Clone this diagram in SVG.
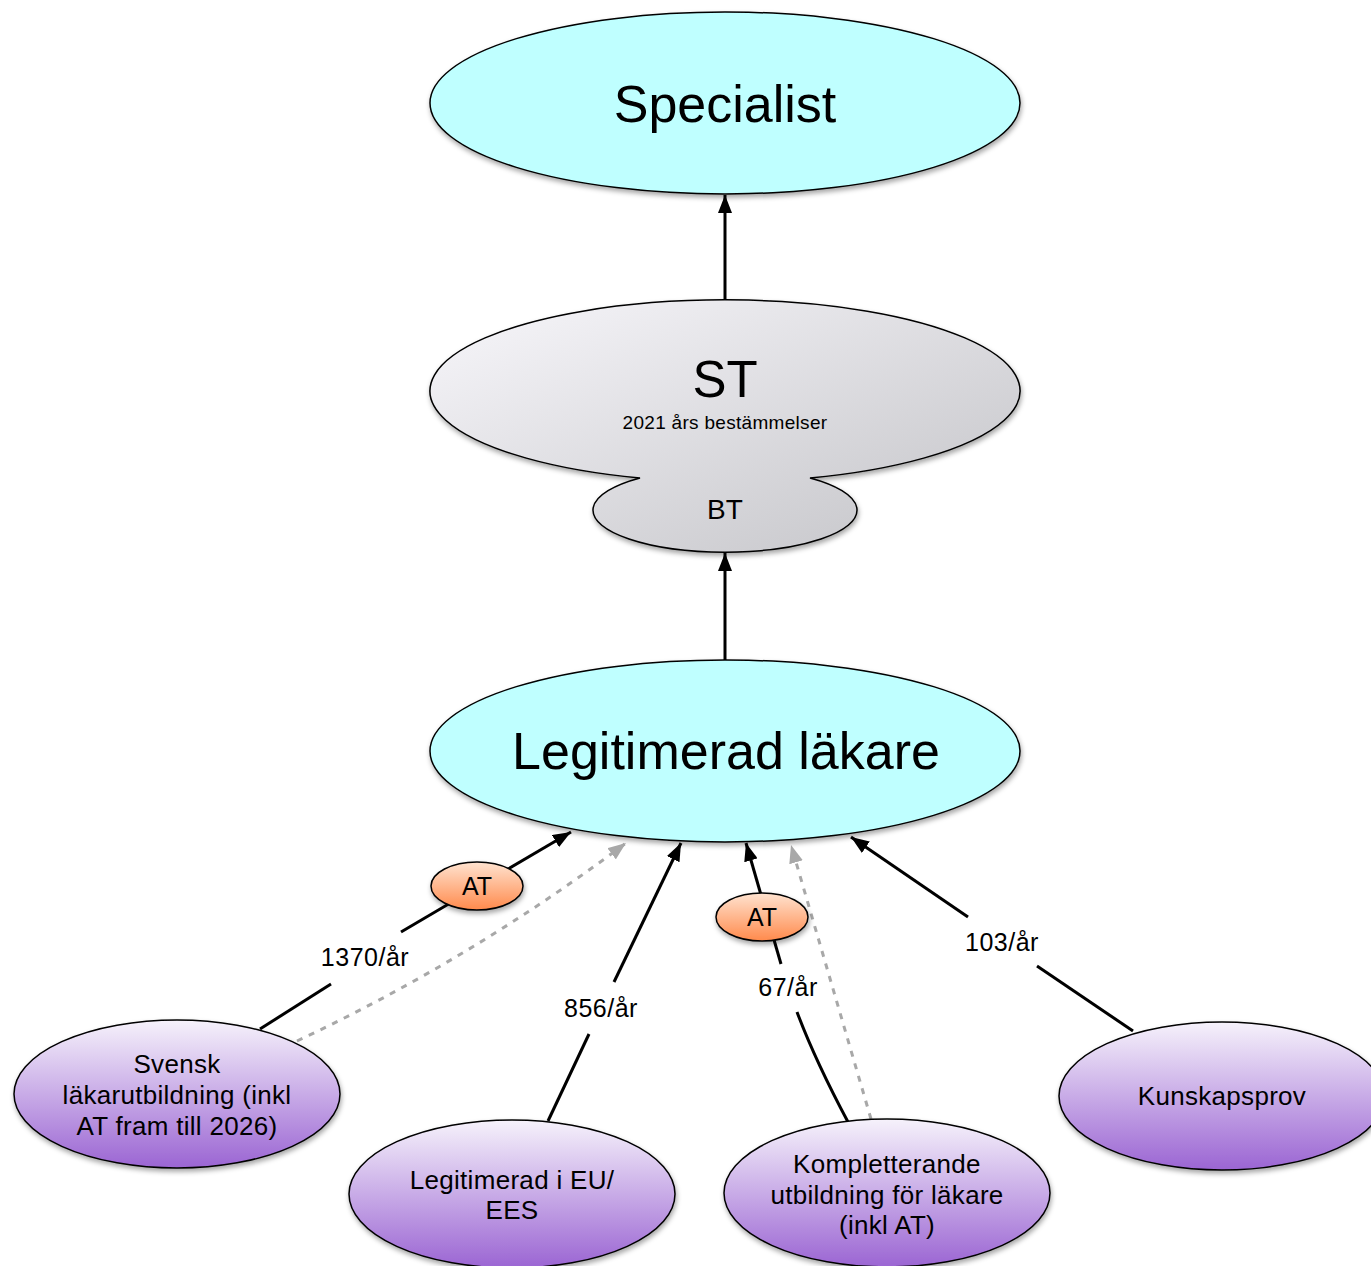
<svg xmlns="http://www.w3.org/2000/svg" width="1371" height="1266" viewBox="0 0 1371 1266">
<style>
.t{font-family:"Liberation Sans",Arial,sans-serif;fill:#000;text-anchor:middle}
.lbl{font-size:25px;letter-spacing:0.5px}
.bt{font-size:26px;letter-spacing:0.3px}
.node{stroke:#000;stroke-width:1.5}
.edge{stroke:#000;stroke-width:3;fill:none}
.dash{stroke:#a8a8a8;stroke-width:3;fill:none;stroke-dasharray:6 7}
</style>
<defs>
<linearGradient id="purple" x1="0" y1="0" x2="0" y2="1">
<stop offset="0" stop-color="#f6f2fb"/>
<stop offset="1" stop-color="#9b65d3"/>
</linearGradient>
<linearGradient id="orange" x1="0" y1="0" x2="0" y2="1">
<stop offset="0" stop-color="#ffe3d0"/>
<stop offset="1" stop-color="#ff8a4c"/>
</linearGradient>
<linearGradient id="gray" x1="0" y1="0" x2="1" y2="1">
<stop offset="0" stop-color="#f8f7fb"/>
<stop offset="1" stop-color="#c2c2c6"/>
</linearGradient>
<filter id="sh" x="-10%" y="-10%" width="125%" height="130%">
<feDropShadow dx="1" dy="3" stdDeviation="2.5" flood-color="#000" flood-opacity="0.35"/>
</filter>
<marker id="ah" markerUnits="userSpaceOnUse" markerWidth="20" markerHeight="14" refX="18" refY="7" orient="auto">
<path d="M0,0 L18,7 L0,14 z" fill="#000"/>
</marker>
<marker id="ahg" markerUnits="userSpaceOnUse" markerWidth="20" markerHeight="14" refX="18" refY="7" orient="auto">
<path d="M0,0 L18,7 L0,14 z" fill="#a8a8a8"/>
</marker>
</defs>
<rect width="1371" height="1266" fill="#fff"/>

<g id="connectors">
<line class="edge" x1="725" y1="300" x2="725" y2="195" marker-end="url(#ah)"/>
<line class="edge" x1="725" y1="660" x2="725" y2="553" marker-end="url(#ah)"/>
<line class="edge" x1="260" y1="1029" x2="331" y2="984"/>
<line class="edge" x1="401" y1="932" x2="571" y2="832" marker-end="url(#ah)"/>
<path class="dash" d="M297 1041 Q470 960 626 843" marker-end="url(#ahg)"/>
<line class="edge" x1="548" y1="1121" x2="589" y2="1034"/>
<line class="edge" x1="614" y1="982" x2="681" y2="843" marker-end="url(#ah)"/>
<path class="edge" d="M848 1122 Q815 1060 797 1012"/>
<line class="edge" x1="781" y1="964" x2="746" y2="843" marker-end="url(#ah)"/>
<line class="dash" x1="871" y1="1119" x2="791" y2="845" marker-end="url(#ahg)"/>
<line class="edge" x1="1133" y1="1031" x2="1037" y2="966"/>
<line class="edge" x1="968" y1="917" x2="851" y2="837" marker-end="url(#ah)"/>
<text class="t lbl" x="365" y="966">1370/år</text>
<text class="t lbl" x="601" y="1017">856/år</text>
<text class="t lbl" x="788" y="996">67/år</text>
<text class="t lbl" x="1002" y="951">103/år</text>
</g>

<g id="specialist">
<ellipse class="node" cx="725" cy="103" rx="295" ry="91" fill="#bfffff" filter="url(#sh)"/>
<text class="t" x="725" y="122" font-size="52">Specialist</text>
</g>

<g id="st">
<path class="node" d="M640 478 A295 91 0 1 1 810 478 A132 42 0 1 1 640 478 Z" fill="url(#gray)" filter="url(#sh)"/>
<text class="t" x="725" y="397" font-size="51">ST</text>
<text class="t" x="725" y="429" font-size="19" letter-spacing="0.3">2021 års bestämmelser</text>
<text class="t" x="725" y="519" font-size="28">BT</text>
</g>

<g id="legitimerad">
<ellipse class="node" cx="725" cy="751" rx="295" ry="91" fill="#bfffff" filter="url(#sh)"/>
<text class="t" x="726" y="769" font-size="52">Legitimerad läkare</text>
</g>

<g id="at1">
<ellipse class="node" cx="477" cy="886" rx="46" ry="24" fill="url(#orange)" filter="url(#sh)"/>
<text class="t" x="477" y="895" font-size="25">AT</text>
</g>

<g id="at2">
<ellipse class="node" cx="762" cy="917" rx="46" ry="24" fill="url(#orange)" filter="url(#sh)"/>
<text class="t" x="762" y="926" font-size="25">AT</text>
</g>

<g id="svensk">
<ellipse class="node" cx="177" cy="1094" rx="163" ry="74" fill="url(#purple)" filter="url(#sh)"/>
<text class="t bt"><tspan x="177" y="1073">Svensk</tspan><tspan x="177" y="1104">läkarutbildning (inkl</tspan><tspan x="177" y="1135">AT fram till 2026)</tspan></text>
</g>

<g id="eu">
<ellipse class="node" cx="512" cy="1194" rx="163" ry="74" fill="url(#purple)" filter="url(#sh)"/>
<text class="t bt"><tspan x="512" y="1189">Legitimerad i EU/</tspan><tspan x="512" y="1219">EES</tspan></text>
</g>

<g id="kompletterande">
<ellipse class="node" cx="887" cy="1193" rx="163" ry="74" fill="url(#purple)" filter="url(#sh)"/>
<text class="t bt"><tspan x="887" y="1173">Kompletterande</tspan><tspan x="887" y="1204">utbildning för läkare</tspan><tspan x="887" y="1234">(inkl AT)</tspan></text>
</g>

<g id="kunskapsprov">
<ellipse class="node" cx="1222" cy="1096" rx="163" ry="74" fill="url(#purple)" filter="url(#sh)"/>
<text class="t bt" x="1222" y="1105">Kunskapsprov</text>
</g>
</svg>
